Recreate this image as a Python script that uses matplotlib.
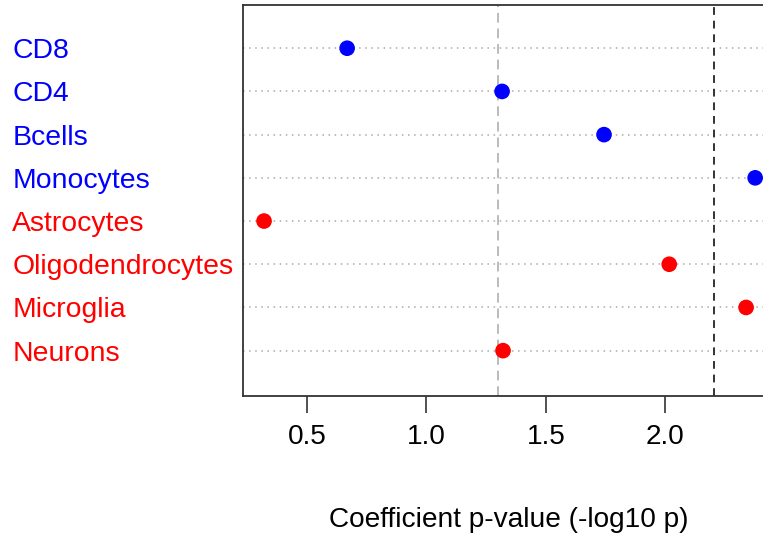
import numpy as np
import matplotlib
matplotlib.use("Agg")
import matplotlib.pyplot as plt
import matplotlib.transforms as mtransforms

plt.rcParams['font.family'] = ['Liberation Sans', 'DejaVu Sans']

# cell types, top to bottom
cell_types = ['CD8', 'CD4', 'Bcells', 'Monocytes',
              'Astrocytes', 'Oligodendrocytes', 'Microglia', 'Neurons']
neglog_p = [0.668, 1.317, 1.744, 2.377, 0.320, 2.017, 2.339, 1.321]
label_colors = ['blue', 'blue', 'blue', 'blue', 'red', 'red', 'red', 'red']

nominal_cut = -np.log10(0.05)
bonf_cut = -np.log10(0.05 / len(cell_types))
xticks = [0.5, 1.0, 1.5, 2.0]

fig = plt.figure(figsize=(7.63, 5.34), dpi=100)
ax = fig.add_axes([0.3185, 0.2584, 0.6972, 0.7322])

n = len(cell_types)
ypos = np.arange(n, 0, -1)

# dotted guide lines (dotchart style)
for y in ypos:
    ax.axhline(y, color='#aaaaaa', linestyle=(0, (1, 3)), linewidth=1.1, zorder=1)

ax.axvline(nominal_cut, color='#bbbbbb', linestyle=(0, (5, 3)), linewidth=1.4, zorder=2)
ax.axvline(bonf_cut, color='#333333', linestyle=(0, (4, 3)), linewidth=1.4, zorder=2)

ax.scatter(neglog_p, ypos, s=105, c=label_colors, zorder=3, clip_on=False)

ax.set_xlim(0.232, 2.46)
ax.set_ylim(-0.05, n + 1)

# labels at the left edge of the figure
trans = mtransforms.blended_transform_factory(fig.transFigure, ax.transData)
for name, y, col in zip(cell_types, ypos, label_colors):
    ax.text(0.016, y, name, transform=trans, color=col, fontsize=20.4,
            ha='left', va='center_baseline')

ax.set_yticks([])
ax.set_xticks(xticks)
ax.set_xticklabels([f'{t:.1f}' for t in xticks])
ax.tick_params(axis='x', direction='out', length=12, width=1.2, color='#333333',
               labelsize=20.2, pad=8)

for sp in ax.spines.values():
    sp.set_color('#333333')
    sp.set_linewidth(1.3)

ax.set_xlabel('Coefficient p-value (-log10 p)', fontsize=20.2, labelpad=41)

fig.savefig('out.png', dpi=100)
